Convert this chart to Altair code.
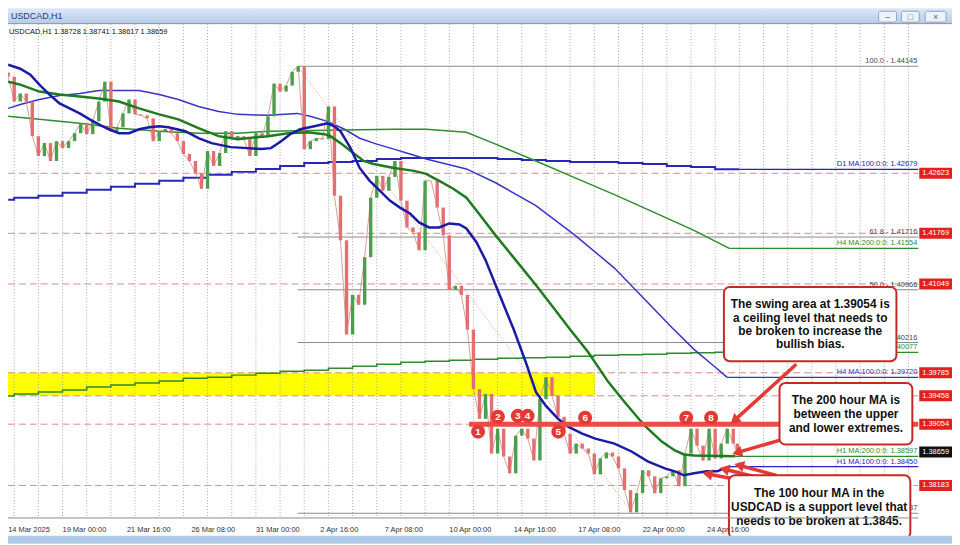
import math
import altair as alt
import pandas as pd

# ---------------- layout / scales ----------------
W, H = 918, 498
X0, X1 = -54.15, 849.7          # hours since 19 Mar 2025 00:00 (H1 bars)
Y0, Y1 = 1.377205, 1.447444     # price
PXH = W / (X1 - X0)
PXP = H / (Y1 - Y0)
FONT = "Liberation Sans"

# ---------------- data ----------------
price_hours = list(range(-54, 667, 6)) + [670]
price_close = [
    1.43997, 1.43644, 1.43757, 1.43644, 1.43151, 1.42869, 1.43052, 1.42798, 1.43080,
    1.42981, 1.43080, 1.43193, 1.43334, 1.43179, 1.43362, 1.43644, 1.43926, 1.43221,
    1.43278, 1.43475, 1.43672, 1.43461, 1.43447, 1.43404, 1.43080, 1.43221, 1.43249,
    1.43193, 1.43080, 1.42897, 1.42798, 1.42629, 1.42403, 1.42939, 1.42728, 1.42911,
    1.43221, 1.43108, 1.43151, 1.43108, 1.42869, 1.43193, 1.43137, 1.43433, 1.43898,
    1.43785, 1.43870, 1.44067, 1.44145, 1.42967, 1.43080, 1.43122, 1.43108, 1.43574,
    1.42304, 1.41670, 1.40330, 1.40894, 1.40753, 1.41430, 1.42276, 1.42586, 1.42375,
    1.42572, 1.42798, 1.42234, 1.41853, 1.41783, 1.41529, 1.42516, 1.42516, 1.42135,
    1.41740, 1.40965, 1.41021, 1.40894, 1.40400, 1.39554, 1.39131, 1.39484, 1.38637,
    1.38990, 1.38595, 1.38355, 1.38891, 1.38990, 1.38849, 1.38539, 1.39413, 1.39723,
    1.39455, 1.39159, 1.38919, 1.38637, 1.38778, 1.38708, 1.38637, 1.38341, 1.38567,
    1.38651, 1.38595, 1.38426, 1.38116, 1.37800, 1.38073, 1.38398, 1.38313, 1.38073,
    1.38285, 1.38313, 1.38398, 1.38172, 1.38637, 1.38990, 1.38750, 1.38539, 1.38990,
    1.38567, 1.38778, 1.38990, 1.38778, 1.38659,
]

h1_100_hours = [-54, -42, -32, -23, -13, -3, 7, 17, 27, 36, 46, 56, 66, 76, 86, 96, 105, 122,
                135, 148, 167, 184, 197, 207, 217, 226, 236, 250, 263, 270, 276, 286, 295, 305,
                315, 325, 335, 345, 354, 364, 374, 384, 394, 401, 411, 420, 430, 440, 448, 460,
                470, 480, 492, 502, 516, 529, 548, 565, 581, 598, 608, 617, 627, 640, 650, 657, 663]
h1_100_vals = [1.44166, 1.44110, 1.44025, 1.43884, 1.43743, 1.43616, 1.43546, 1.43475, 1.43390,
               1.43320, 1.43249, 1.43193, 1.43193, 1.43249, 1.43278, 1.43292, 1.43278, 1.43221,
               1.43122, 1.43052, 1.42995, 1.42981, 1.42967, 1.42981, 1.43080, 1.43179, 1.43249,
               1.43292, 1.43334, 1.43292, 1.43221, 1.42981, 1.42699, 1.42516, 1.42375, 1.42234,
               1.42135, 1.42051, 1.41924, 1.41853, 1.41853, 1.41910, 1.41895, 1.41839, 1.41642,
               1.41388, 1.41035, 1.40682, 1.40400, 1.39935, 1.39512, 1.39314, 1.39131, 1.39018,
               1.38919, 1.38849, 1.38778, 1.38666, 1.38525, 1.38426, 1.38384, 1.38327, 1.38355,
               1.38384, 1.38384, 1.38426, 1.38450]

h1_200_hours = [-54, -42, -23, -3, 17, 36, 56, 76, 96, 115, 135, 155, 174, 204, 224, 243, 260, 266,
                276, 290, 299, 309, 329, 349, 361, 374, 388, 401, 411, 430, 450, 470, 489, 504,
                522, 542, 558, 578, 595, 608, 617, 627, 668]
h1_200_vals = [1.43926, 1.43884, 1.43785, 1.43743, 1.43715, 1.43687, 1.43644, 1.43546, 1.43461,
               1.43390, 1.43264, 1.43151, 1.43108, 1.43151, 1.43193, 1.43207, 1.43179, 1.43151,
               1.43052, 1.42897, 1.42798, 1.42756, 1.42699, 1.42657, 1.42615, 1.42516, 1.42403,
               1.42276, 1.42093, 1.41740, 1.41388, 1.41035, 1.40682, 1.40400, 1.40076, 1.39653,
               1.39371, 1.39032, 1.38807, 1.38680, 1.38623, 1.38609, 1.38597]

h4_100_hours = [-54, -42, -23, -3, 17, 36, 76, 96, 115, 135, 155, 174, 204, 233, 246, 263, 280,
                295, 312, 329, 345, 361, 381, 401, 430, 470, 509, 548, 588, 605, 627, 647, 660]
h4_100_vals = [1.43546, 1.43602, 1.43672, 1.43729, 1.43757, 1.43799, 1.43799, 1.43743, 1.43672,
               1.43574, 1.43503, 1.43461, 1.43447, 1.43475, 1.43433, 1.43362, 1.43249, 1.43122,
               1.43038, 1.42967, 1.42897, 1.42826, 1.42756, 1.42685, 1.42488, 1.42163, 1.41740,
               1.41275, 1.40682, 1.40429, 1.40118, 1.39878, 1.39720]

h4_200_hours = [-54, -23, 17, 56, 96, 135, 174, 204, 263, 329, 361, 401, 430, 470, 509, 548, 568,
                627, 662]
h4_200_vals = [1.43433, 1.43390, 1.43334, 1.43264, 1.43221, 1.43193, 1.43193, 1.43221, 1.43235,
               1.43249, 1.43249, 1.43207, 1.43038, 1.42798, 1.42558, 1.42319, 1.42192, 1.41811,
               1.41554]

daily_hours = [-54, -48, -24, 0, 24, 48, 72, 96, 120, 144, 168, 192, 216, 240, 264, 288, 312,
               336, 360, 384, 408, 432, 456, 480, 504, 528, 552, 576, 600, 624, 648, 672]
d1_100_vals = [1.42248, 1.42276, 1.42304, 1.42347, 1.42389, 1.42431, 1.42474, 1.42516, 1.42558,
               1.42601, 1.42643, 1.42685, 1.42727, 1.42770, 1.42784, 1.42798, 1.42826, 1.42840,
               1.42840, 1.42840, 1.42840, 1.42826, 1.42812, 1.42798, 1.42784, 1.42784, 1.42770,
               1.42756, 1.42727, 1.42713, 1.42679, 1.42679]
d1_200_vals = [1.39455, 1.39484, 1.39512, 1.39540, 1.39582, 1.39611, 1.39639, 1.39667, 1.39709,
               1.39723, 1.39752, 1.39780, 1.39808, 1.39822, 1.39850, 1.39878, 1.39907, 1.39935,
               1.39949, 1.39963, 1.39977, 1.39991, 1.39998, 1.40006, 1.40020, 1.40034, 1.40041,
               1.40048, 1.40062, 1.40069, 1.40077, 1.40077]

# flat extensions of the indicator lines (start hour, price, label, colour)
flat_start = [663, 668, 660, 662, 672, 672]
flat_price = [1.38450, 1.38597, 1.39720, 1.41554, 1.42679, 1.40077]
flat_label = ["H1 MA:100:0:0: 1.38450", "H1 MA:200:0:0: 1.38597", "H4 MA:100:0:0: 1.39720",
              "H4 MA:200:0:0: 1.41554", "D1 MA:100:0:0: 1.42679", "D1 MA:200:0:0: 1.40077"]
flat_color = ["#2424c8", "#2e8b2e", "#3636c8", "#2e8b2e", "#2424b8", "#2e8b2e"]

level_prices = [1.42623, 1.41769, 1.41049, 1.39785, 1.39458, 1.39054, 1.38183]
current_price = 1.38659

fib_start = 233.4
fib_prices = [1.44145, 1.41716, 1.40966, 1.40216, 1.37787]
fib_labels = ["100.0 - 1.44145", "61.8 - 1.41716", "50.0 - 1.40966", "38.2 - 1.40216", "0.0 - 1.37787"]
fib_end_hour = 566.0

band_hours = [X0, 528.7]
band_prices = [1.39458, 1.39785]
swing_start = 403.7
swing_price = 1.39054

marker_hours = [412.6, 432.3, 452.0, 461.8, 492.3, 518.9, 619.3, 644.0]
marker_prices = [1.38948, 1.39159, 1.39173, 1.39173, 1.38948, 1.39145, 1.39145, 1.39145]
marker_text = ["1", "2", "3", "4", "5", "6", "7", "8"]

grid_hours = list(range(-48, 850, 24))

axis_tick_prices = [1.44420, 1.43955, 1.43485, 1.43020, 1.42555, 1.42085, 1.41620, 1.41155,
                    1.40685, 1.40220, 1.39755, 1.39285, 1.38820, 1.38355, 1.37885]
time_label_hours = [-54, 0, 64, 128, 192, 256, 320, 384, 448, 512, 576, 640]
time_labels = ["14 Mar 2025", "19 Mar 00:00", "21 Mar 16:00", "26 Mar 08:00", "31 Mar 00:00",
               "2 Apr 16:00", "7 Apr 08:00", "10 Apr 00:00", "14 Apr 16:00", "17 Apr 08:00",
               "22 Apr 00:00", "24 Apr 16:00"]

# annotation boxes (hour0, hour1, price top, price bottom)
box_h0 = [656.7, 711.9, 661.7]
box_h1 = [828.0, 843.8, 841.8]
box_ptop = [1.41007, 1.39639, 1.38327]
box_pbot = [1.39949, 1.38764, 1.37424]
box_lines = [
    ["The swing area at 1.39054 is", "a ceiling level that needs to", "be broken to increase the", "bullish bias."],
    ["The 200 hour MA is", "between the upper", "and lower extremes."],
    ["The 100 hour MA in the", "USDCAD is a support level that", "needs to be broken at 1.3845."],
]
box_center_h = [742.4, 777.9, 751.3]
box_line_prices = [[1.40767, 1.40570, 1.40386, 1.40189], [1.39399, 1.39202, 1.39004],
                   [1.38073, 1.37876, 1.37678]]

arrow_from_h = [728.6, 717.8, 684.3, 693.2, 708.9]
arrow_from_p = [1.39907, 1.38849, 1.38228, 1.38285, 1.38327]
arrow_to_h = [664.6, 666.6, 637.0, 653.8, 668.6]
arrow_to_p = [1.39075, 1.38637, 1.38355, 1.38426, 1.38482]

# ---------------- helpers ----------------
xs = alt.Scale(domain=[X0, X1], nice=False, zero=False)
ys = alt.Scale(domain=[Y0, Y1], nice=False, zero=False)


def X(f):
    return alt.X(f, type="quantitative", scale=xs, axis=None)


def Y(f, axis=None):
    return alt.Y(f, type="quantitative", scale=ys, axis=axis)


one = pd.DataFrame({"a": [0]})
layers = []

# background pieces -------------------------------------------------
band_df = pd.DataFrame({"h0": [band_hours[0]], "h1": [band_hours[1]],
                        "p0": [band_prices[0]], "p1": [band_prices[1]]})
layers.append(alt.Chart(band_df).mark_rect(color="#ffff00").encode(
    x=X("h0"), x2="h1", y=Y("p0"), y2="p1"))

grid_df = pd.DataFrame({"h": grid_hours})
layers.append(alt.Chart(grid_df).mark_rule(color="#a8a8a8", strokeWidth=1, strokeDash=[1, 2]).encode(
    x=X("h"), y=alt.value(0), y2=alt.value(H)))

lvl_df = pd.DataFrame({"p": level_prices})
layers.append(alt.Chart(lvl_df).mark_rule(color="#dd8a8a", strokeWidth=1, strokeDash=[7, 4]).encode(
    y=Y("p"), x=alt.value(0), x2=alt.value(W)))

fib_df = pd.DataFrame({"h0": [fib_start] * len(fib_prices), "h1": [X1] * len(fib_prices),
                       "p": fib_prices, "t": fib_labels})
layers.append(alt.Chart(fib_df).mark_rule(color="#8a8a8a", strokeWidth=1).encode(
    x=X("h0"), x2="h1", y=Y("p")))
diag_df = pd.DataFrame({"h0": [fib_start], "h1": [fib_end_hour], "p0": [fib_prices[0]], "p1": [fib_prices[-1]]})
layers.append(alt.Chart(diag_df).mark_rule(color="#e09090", strokeWidth=1, strokeDash=[1, 2]).encode(
    x=X("h0"), x2="h1", y=Y("p0"), y2="p1"))

# step lines (daily MAs)
d_df = pd.DataFrame({"h": daily_hours, "a": d1_100_vals, "b": d1_200_vals})
layers.append(alt.Chart(d_df).mark_line(color="#2828b8", strokeWidth=2, interpolate="step-after").encode(
    x=X("h"), y=Y("a")))
layers.append(alt.Chart(d_df).mark_line(color="#2e8b2e", strokeWidth=1.5, interpolate="step-after").encode(
    x=X("h"), y=Y("b")))

# H4 MAs
layers.append(alt.Chart(pd.DataFrame({"h": h4_100_hours, "p": h4_100_vals})).mark_line(
    color="#3636c8", strokeWidth=1.5).encode(x=X("h"), y=Y("p")))
layers.append(alt.Chart(pd.DataFrame({"h": h4_200_hours, "p": h4_200_vals})).mark_line(
    color="#2e8b2e", strokeWidth=1.5).encode(x=X("h"), y=Y("p")))

# flat extensions + labels
flat_df = pd.DataFrame({"h0": flat_start, "h1": [X1] * len(flat_start), "p": flat_price,
                        "t": flat_label, "c": flat_color})
layers.append(alt.Chart(flat_df).mark_rule(strokeWidth=1.3).encode(
    x=X("h0"), x2="h1", y=Y("p"), color=alt.Color("c:N", scale=None)))

# candles: thin price path plus bodies from previous close to close
cdf = pd.DataFrame({"h": price_hours, "c": price_close})
cdf["o"] = cdf["c"].shift(1).fillna(cdf["c"].iloc[0] + 0.0006)
cdf["col"] = ["#4b9e4b" if c >= o else "#e27070" for c, o in zip(cdf["c"], cdf["o"])]
layers.append(alt.Chart(cdf).mark_line(color="#c98a7a", strokeWidth=1, opacity=0.8).encode(
    x=X("h"), y=Y("c")))
yaxis = alt.Axis(orient="right", values=axis_tick_prices, format=".5f", title=None, grid=False,
                 labelFont=FONT, labelFontSize=7.5, labelColor="#333333", tickSize=3,
                 tickColor="#666666", domainColor="#888888", labelPadding=1, labelOverlap=False)
layers.append(alt.Chart(cdf).mark_rule(strokeWidth=3.4).encode(
    x=X("h"), y=Y("o", axis=yaxis), y2="c", color=alt.Color("col:N", scale=None)))

# H1 MAs (thick)
layers.append(alt.Chart(pd.DataFrame({"h": h1_200_hours, "p": h1_200_vals})).mark_line(
    color="#1e7b1e", strokeWidth=2.5).encode(x=X("h"), y=Y("p")))
layers.append(alt.Chart(pd.DataFrame({"h": h1_100_hours, "p": h1_100_vals})).mark_line(
    color="#1a1aa6", strokeWidth=2.5).encode(x=X("h"), y=Y("p")))

# swing level thick red line
sw_df = pd.DataFrame({"h0": [swing_start], "h1": [X1], "p": [swing_price]})
layers.append(alt.Chart(sw_df).mark_rule(color="#f04a45", strokeWidth=5).encode(
    x=X("h0"), x2="h1", y=Y("p")))

# line labels
layers.append(alt.Chart(fib_df).mark_text(align="right", baseline="bottom", dy=-1, dx=-1,
                                           font=FONT, fontSize=7.5, color="#444444").encode(
    x=alt.value(W), y=Y("p"), text="t:N"))
layers.append(alt.Chart(flat_df).mark_text(align="right", baseline="bottom", dy=-1, dx=-1,
                                            font=FONT, fontSize=7.5).encode(
    x=alt.value(W), y=Y("p"), text="t:N", color=alt.Color("c:N", scale=None)))

# numbered markers
mk_df = pd.DataFrame({"h": marker_hours, "p": marker_prices, "t": marker_text})
layers.append(alt.Chart(mk_df).mark_point(shape="circle", filled=True, size=200, color="#e53935",
                                          opacity=1).encode(x=X("h"), y=Y("p")))
layers.append(alt.Chart(mk_df).mark_text(font=FONT, fontSize=10, fontWeight="bold", color="white",
                                         baseline="middle").encode(x=X("h"), y=Y("p"), text="t:N"))

# arrows
rows = []
for fh, fp, th, tp in zip(arrow_from_h, arrow_from_p, arrow_to_h, arrow_to_p):
    dx = (th - fh) * PXH
    dy = -(tp - fp) * PXP
    L = math.hypot(dx, dy)
    ux, uy = dx / L, dy / L
    hh = th - 5 * ux / PXH
    hp = tp + 5 * uy / PXP
    ang = math.degrees(math.atan2(ux, -uy)) % 360
    rows.append({"fh": fh, "fp": fp, "hh": hh, "hp": hp, "ang": ang})
arr_df = pd.DataFrame(rows)
layers.append(alt.Chart(arr_df).mark_rule(color="#e53935", strokeWidth=3.5).encode(
    x=X("fh"), x2="hh", y=Y("fp"), y2="hp"))
layers.append(alt.Chart(arr_df).mark_point(shape="triangle", filled=True, size=130, color="#e53935",
                                           opacity=1).encode(
    x=X("hh"), y=Y("hp"), angle=alt.Angle("ang:Q", scale=None)))

# boxes
bx_df = pd.DataFrame({"h0": box_h0, "h1": box_h1, "p0": box_ptop, "p1": box_pbot})
layers.append(alt.Chart(bx_df).mark_rect(fill="white", stroke="#c62828", strokeWidth=2,
                                         cornerRadius=6).encode(
    x=X("h0"), x2="h1", y=Y("p0"), y2="p1"))
trows = []
for ch, lines, lps in zip(box_center_h, box_lines, box_line_prices):
    for t, p in zip(lines, lps):
        trows.append({"h": ch, "p": p, "t": t})
layers.append(alt.Chart(pd.DataFrame(trows)).mark_text(font=FONT, fontSize=12, fontWeight="bold",
                                                       color="#111111", baseline="middle").encode(
    x=X("h"), y=Y("p"), text="t:N"))

# right-axis level tags
tag_df = pd.DataFrame({"p": level_prices + [current_price],
                       "c": ["#e41f1f"] * len(level_prices) + ["#111111"],
                       "t": [f"{v:.5f}" for v in level_prices + [current_price]]})
layers.append(alt.Chart(tag_df).mark_rule(strokeWidth=11).encode(
    x=alt.value(W + 1), x2=alt.value(W + 34), y=Y("p"), color=alt.Color("c:N", scale=None)))
layers.append(alt.Chart(tag_df).mark_text(align="left", baseline="middle", font=FONT, fontSize=7.5,
                                          color="white").encode(
    x=alt.value(W + 4), y=Y("p"), text="t:N"))

# time labels + bottom border
tl_df = pd.DataFrame({"h": time_label_hours, "t": time_labels})
layers.append(alt.Chart(one).mark_rule(color="#8a8a8a").encode(
    x=alt.value(0), x2=alt.value(W), y=alt.value(H)))
layers.append(alt.Chart(tl_df).mark_text(align="left", baseline="middle", font=FONT, fontSize=7.5,
                                         color="#333333").encode(
    x=X("h"), y=alt.value(H + 12), text="t:N"))

# header text
layers.append(alt.Chart(one).mark_text(align="left", baseline="middle", font=FONT, fontSize=7.5,
                                       color="#111111").encode(
    x=alt.value(1), y=alt.value(8), text=alt.value("USDCAD,H1  1.38728 1.38741 1.38617 1.38659")))

# window chrome: title bar and bottom bar
grad = alt.Gradient(gradient="linear", x1=0, x2=0, y1=0, y2=1,
                    stops=[alt.GradientStop(color="#dce8f7", offset=0),
                           alt.GradientStop(color="#b6cce8", offset=1)])
layers.append(alt.Chart(one).mark_rect(fill=grad).encode(
    x=alt.value(-2), x2=alt.value(W + 36), y=alt.value(-16), y2=alt.value(-1)))
layers.append(alt.Chart(one).mark_rule(color="#7f8fa6").encode(
    x=alt.value(-2), x2=alt.value(W + 36), y=alt.value(-0.5)))
layers.append(alt.Chart(one).mark_text(align="left", baseline="middle", font=FONT, fontSize=9,
                                       color="#1f3e6e").encode(
    x=alt.value(3), y=alt.value(-8), text=alt.value("USDCAD,H1")))
btn_df = pd.DataFrame({"x0": [878, 901, 925], "x1": [896, 919, 946], "g": ["\u2013", "\u25a1", "\u00d7"]})
layers.append(alt.Chart(btn_df).mark_rect(fill="#eef3fa", stroke="#8ea3c2", strokeWidth=1,
                                          cornerRadius=2).encode(
    x=alt.X("x0:Q", scale=None, axis=None), x2="x1", y=alt.value(-13), y2=alt.value(-2)))
layers.append(alt.Chart(btn_df).mark_text(font=FONT, fontSize=9, color="#55657d", baseline="middle").encode(
    x=alt.X("xm:Q", scale=None, axis=None), y=alt.value(-7.5), text="g:N").transform_calculate(
    xm="(datum.x0 + datum.x1) / 2"))
layers.append(alt.Chart(one).mark_rect(color="#b0caea").encode(
    x=alt.value(-2), x2=alt.value(W + 36), y=alt.value(H + 18), y2=alt.value(H + 26)))

chart = alt.layer(*layers).properties(
    width=W, height=H,
    autosize=alt.AutoSizeParams(type="none"),
    padding={"left": 0, "top": 14, "right": 34, "bottom": 25},
    background="white",
).configure_view(stroke=None)

chart.save("out.html", embed_options={"renderer": "svg", "actions": False})
